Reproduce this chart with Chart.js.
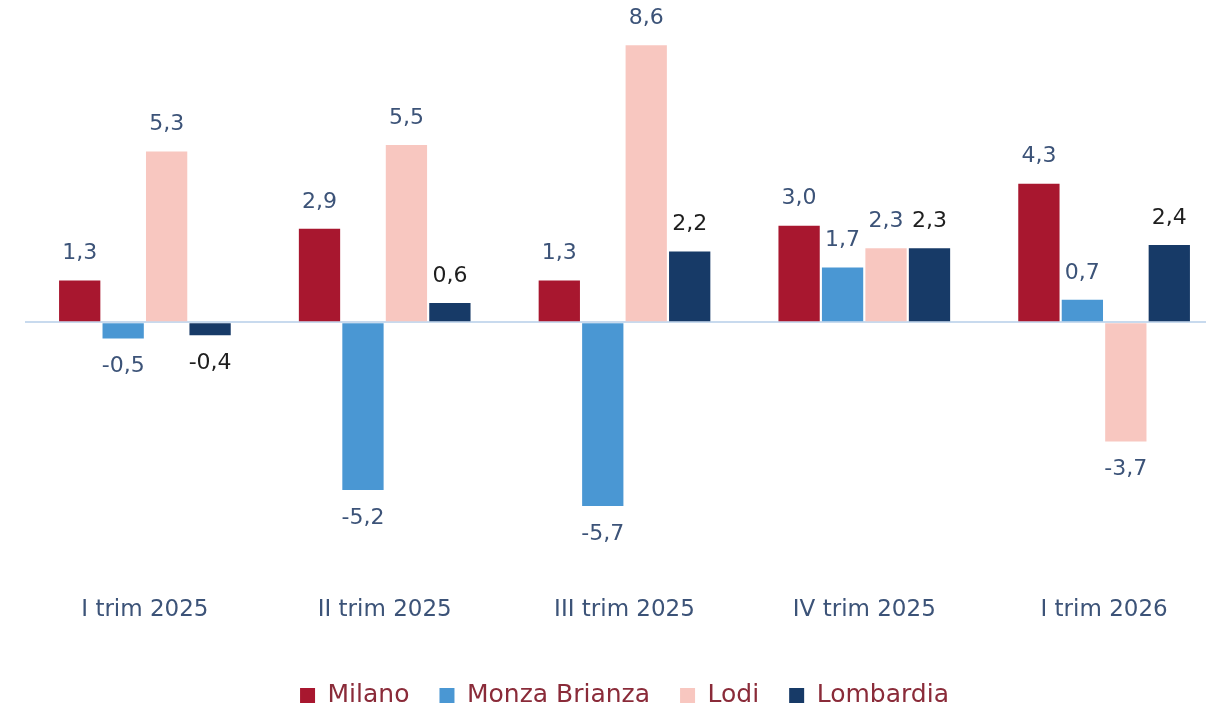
<!DOCTYPE html>
<html>
<head>
<meta charset="utf-8">
<script src="https://cdn.jsdelivr.net/npm/chart.js@4.4.0/dist/chart.umd.min.js"></script>
<style>
  html, body { margin: 0; padding: 0; background: #fff; overflow: hidden; }
  #wrap { position: relative; width: 1230px; height: 718px; }
</style>
</head>
<body>
<div id="wrap"><canvas id="chart"></canvas></div>
<script>
// dati
const categories = ['I trim 2025', 'II trim 2025', 'III trim 2025', 'IV trim 2025', 'I trim 2026'];
const milano = [1.3, 2.9, 1.3, 3.0, 4.3];
const monzaBrianza = [-0.5, -5.2, -5.7, 1.7, 0.7];
const lodi = [5.3, 5.5, 8.6, 2.3, -3.7];
const lombardia = [-0.4, 0.6, 2.2, 2.3, 2.4];

const FONT = "'DejaVu Sans', sans-serif";

// etichette sopra/sotto le barre
const valueLabels = {
    id: 'valueLabels',
    afterDatasetsDraw(chart) {
        const ctx = chart.ctx;
        ctx.save();
        ctx.font = '22px ' + FONT;
        ctx.textAlign = 'center';
        ctx.textBaseline = 'middle';
        chart.data.datasets.forEach((ds, i) => {
            const meta = chart.getDatasetMeta(i);
            meta.data.forEach((bar, j) => {
                const v = ds.data[j];
                const txt = v.toFixed(1).replace('.', ',');
                ctx.fillStyle = ds.labelColor;
                const y = v >= 0 ? bar.y - 27 : bar.y + 28;
                ctx.fillText(txt, bar.x, y);
            });
        });
        ctx.restore();
    }
};

const ctx = document.getElementById('chart').getContext('2d');
new Chart(ctx, {
    type: 'bar',
    data: {
        labels: categories,
        datasets: [
            { label: 'Milano', data: milano, backgroundColor: '#A8172F', labelColor: '#3C5378' },
            { label: 'Monza Brianza', data: monzaBrianza, backgroundColor: '#4A97D3', labelColor: '#3C5378' },
            { label: 'Lodi', data: lodi, backgroundColor: '#F8C7C0', labelColor: '#3C5378' },
            { label: 'Lombardia', data: lombardia, backgroundColor: '#173A67', labelColor: '#1E1E1E' }
        ]
    },
    options: {
        responsive: true,
        maintainAspectRatio: false,
        animation: false,
        layout: { padding: { left: 25, right: 6, top: 0, bottom: 0 } },
        datasets: { bar: { categoryPercentage: 0.725, barPercentage: 0.95 } },
        scales: {
            x: {
                grid: { display: false },
                border: { display: false },
                ticks: { color: '#3C5378', font: { family: FONT, size: 23 }, padding: 40 },
                afterFit: s => { s.height = 105; }
            },
            y: {
                min: -7,
                max: 10,
                ticks: { display: false, stepSize: 1 },
                border: { display: false },
                grid: {
                    drawTicks: false,
                    lineWidth: 2,
                    color: c => c.tick.value === 0 ? '#C8DAEE' : 'transparent'
                }
            }
        },
        plugins: {
            tooltip: { enabled: false },
            legend: {
                position: 'bottom',
                labels: {
                    color: '#8A2B39',
                    font: { family: FONT, size: 25 },
                    boxWidth: 15,
                    boxHeight: 15,
                    padding: 30
                }
            }
        }
    },
    plugins: [valueLabels]
});
</script>
</body>
</html>
